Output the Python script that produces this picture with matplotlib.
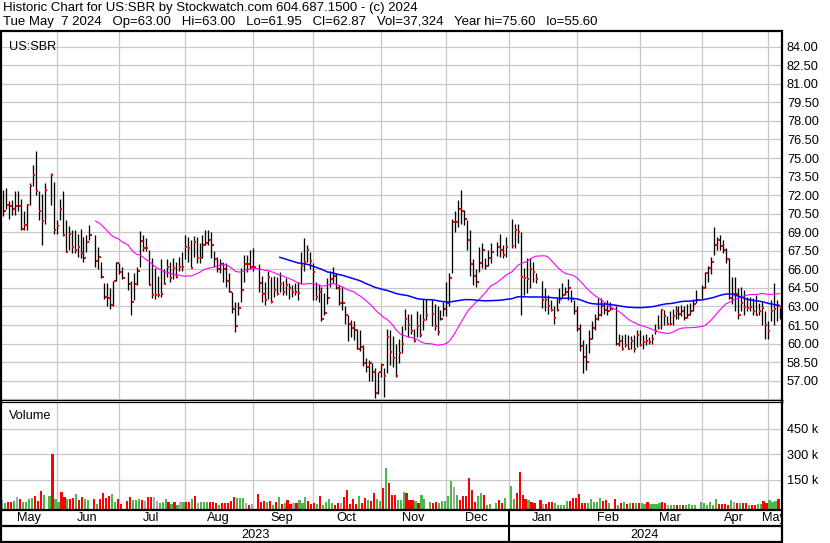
import numpy as np
import pandas as pd
import matplotlib
matplotlib.use("Agg")
import matplotlib.pyplot as plt

plt.rcParams['font.family'] = ['Liberation Sans', 'DejaVu Sans']
plt.rcParams['font.size'] = 9.2

W, H = 830, 543

# one slot per weekday; exchange holidays stay as empty slots
days = pd.bdate_range("2023-05-08", "2024-05-07")
holidays = pd.to_datetime(["2023-05-29", "2023-06-19", "2023-07-04", "2023-09-04",
                           "2023-11-23", "2023-12-25", "2024-01-01", "2024-01-15",
                           "2024-02-19", "2024-03-29"])
trade_days = days[~days.isin(holidays)]

close = [
    # May 2023
    70.75, 71.2, 71.1, 70.9, 71.1, 71.1, 69.3, 69.6, 71.2, 72.7, 73.6, 72.3, 70.75, 69.9, 72.4, 73.6, 69.2,
    # Jun
    69.5, 70.9, 68.8, 67.4, 68.9, 67.8, 67.6, 67.8, 67.3, 66.9, 68.2, 68.8, 66.7, 67.0, 65.4, 63.8, 63.7, 63.1, 65.1, 66.5, 65.8,
    # Jul
    65.3, 64.8, 63.4, 64.8, 65.9, 68.3, 67.7, 67.7, 64.7, 63.9, 63.9, 63.9, 64.0, 64.8, 66.2, 65.3, 66.1, 65.4, 66.2, 66.2,
    # Aug
    67.8, 67.7, 66.1, 68.2, 66.9, 66.9, 68.0, 68.1, 68.4, 68.0, 66.8, 66.0, 66.4, 66.0, 65.1, 64.2, 62.8, 61.4, 62.9, 64.3, 66.4, 66.4, 66.2,
    # Sep
    66.2, 64.9, 64.0, 63.5, 65.4, 63.4, 64.3, 64.0, 64.8, 64.2, 64.7, 64.5, 64.2, 64.2, 64.1, 66.3, 66.6, 67.6, 66.7, 65.8,
    # Oct
    63.8, 64.2, 62.0, 62.5, 63.7, 65.2, 65.5, 64.5, 63.3, 63.3, 62.3, 61.6, 61.25, 61.1, 59.6, 59.7, 58.45, 58.1, 58.45, 57.7, 56.0, 57.7,
    # Nov
    58.3, 57.4, 60.5, 59.3, 58.8, 57.4, 59.2, 60.0, 61.95, 61.5, 61.0, 60.2, 61.4, 60.7, 61.9, 62.3, 62.4, 61.4, 60.9, 62.0, 62.8,
    # Dec
    63.3, 65.3, 69.8, 69.8, 70.9, 70.7, 70.1, 68.4, 66.4, 65.5, 65.0, 66.5, 67.6, 66.3, 66.9, 67.4, 67.8, 67.6, 67.2, 67.8,
    # Jan 2024
    67.9, 69.2, 69.0, 65.4, 65.3, 65.2, 66.0, 65.8, 65.2, 63.5, 63.5, 63.0, 62.7, 62.1, 62.7, 63.6, 63.9, 64.2, 64.5, 63.6, 62.6,
    # Feb
    61.2, 59.8, 58.9, 58.5, 60.4, 61.3, 62.0, 62.3, 63.0, 62.7, 62.6, 62.8, 60.0, 60.2, 59.6, 59.9, 59.6, 60.2, 59.6, 60.7,
    # Mar
    59.9, 60.1, 60.2, 60.1, 60.4, 61.0, 61.3, 62.7, 62.2, 61.55, 61.55, 62.2, 62.6, 62.4, 62.6, 62.1, 62.3, 62.6, 63.2, 63.5,
    # Apr
    64.5, 65.7, 66.1, 66.6, 68.0, 68.4, 67.9, 67.6, 66.8, 63.65, 64.0, 64.0, 62.3, 63.25, 62.95, 62.9, 62.95, 62.6, 62.3, 62.6, 62.9, 61.5,
    # May 2024
    61.0, 62.6, 62.8, 63.1, 62.87,
]

high = [
    72.4, 72.55, 71.5, 71.6, 72.3, 72.3, 71.7, 70.7, 71.3, 73.0, 74.4, 75.6, 72.3, 72.1, 73.0, 73.8, 73.1,
    70.0, 71.7, 72.3, 70.0, 69.5, 69.2, 69.2, 68.9, 69.3, 68.6, 68.8, 69.6, 68.8, 67.8, 66.6, 64.9, 64.9, 64.5, 65.1, 66.6, 66.5,
    66.2, 65.8, 65.1, 65.7, 66.2, 69.1, 68.8, 68.5, 67.6, 66.9, 66.1, 65.5, 66.8, 66.0, 66.8, 66.6, 66.9, 66.6, 67.0, 67.4,
    68.8, 68.6, 68.4, 68.7, 68.6, 68.1, 68.8, 69.2, 69.2, 69.0, 67.5, 67.0, 66.8, 66.6, 66.5, 65.7, 64.2, 63.4, 63.4, 66.1, 67.2, 67.2, 67.6,
    67.7, 66.4, 65.5, 65.0, 65.9, 65.4, 65.5, 65.4, 65.8, 65.1, 65.3, 64.9, 64.7, 64.9, 65.0, 67.4, 68.5, 68.0, 67.4, 66.5,
    65.0, 64.8, 64.6, 64.1, 65.3, 65.9, 66.2, 65.7, 64.7, 64.6, 63.0, 62.3, 61.9, 61.8, 61.2, 61.1, 59.9, 58.8, 58.7, 58.4, 58.0, 57.7,
    58.4, 58.0, 61.2, 61.1, 60.6, 60.0, 60.4, 61.4, 62.8, 62.4, 62.4, 61.2, 62.6, 62.4, 63.6, 63.6, 63.5, 63.2, 63.0, 62.7, 63.4,
    65.0, 65.7, 70.1, 70.7, 71.6, 72.4, 70.8, 70.0, 69.2, 66.8, 66.0, 67.8, 68.1, 66.9, 67.6, 68.1, 68.2, 68.9, 68.0, 68.6,
    70.1, 69.7, 69.7, 69.0, 66.1, 66.9, 66.9, 66.6, 65.7, 65.1, 64.5, 63.9, 63.5, 63.0, 63.7, 64.5, 64.9, 64.6, 65.2, 64.3, 63.5,
    63.0, 61.6, 60.3, 60.0, 61.1, 61.8, 62.4, 63.7, 63.7, 63.4, 63.5, 63.4, 63.0, 60.8, 60.7, 60.8, 60.7, 60.6, 60.7, 61.1,
    61.1, 60.7, 60.8, 60.55, 60.8, 61.6, 62.3, 62.8, 62.7, 62.2, 62.6, 62.8, 63.0, 63.0, 63.1, 63.0, 63.2, 63.25, 63.6, 64.3,
    64.7, 65.8, 66.3, 67.0, 69.4, 68.6, 68.8, 68.4, 67.7, 66.9, 65.4, 65.4, 64.5, 64.6, 64.3, 63.8, 63.8, 63.65, 63.9, 63.25, 63.4, 62.6,
    61.8, 63.5, 64.9, 63.5, 63.0,
]

low = [
    70.3, 70.9, 70.1, 70.4, 70.4, 70.7, 69.2, 69.2, 69.2, 71.2, 72.7, 72.0, 70.0, 68.0, 69.7, 71.2, 68.9,
    68.9, 70.0, 68.7, 67.4, 67.6, 67.3, 67.3, 67.0, 66.9, 66.6, 67.4, 68.4, 66.2, 66.0, 65.3, 63.6, 63.0, 62.8, 63.0, 65.1, 65.6,
    65.2, 64.3, 62.3, 63.5, 64.7, 66.2, 67.5, 67.5, 64.7, 63.7, 63.6, 63.8, 63.8, 64.8, 65.4, 65.0, 65.2, 65.3, 65.9, 65.9,
    66.8, 66.6, 66.1, 67.0, 66.5, 66.5, 66.9, 68.0, 68.0, 66.9, 66.2, 65.8, 65.7, 65.0, 64.6, 64.2, 62.5, 60.9, 62.3, 63.4, 65.0, 65.8, 66.0,
    65.9, 64.2, 63.4, 63.1, 63.6, 63.3, 63.8, 63.9, 64.2, 63.9, 63.9, 63.6, 63.8, 63.9, 63.5, 64.8, 65.9, 66.6, 66.0, 63.5,
    63.5, 63.4, 61.8, 62.3, 63.2, 64.6, 64.9, 64.4, 63.1, 62.7, 61.6, 60.2, 60.5, 60.3, 59.6, 59.4, 58.2, 57.7, 57.0, 57.0, 55.6, 55.9,
    57.3, 55.7, 57.6, 58.3, 58.1, 57.3, 58.4, 59.2, 61.1, 60.5, 60.8, 60.1, 60.5, 60.5, 61.1, 61.9, 61.4, 61.1, 60.7, 61.9, 62.2,
    62.2, 63.0, 65.7, 69.0, 69.4, 69.7, 69.6, 67.6, 65.5, 64.7, 64.6, 65.8, 66.1, 66.0, 66.3, 66.5, 67.1, 67.0, 66.9, 67.0,
    67.7, 67.7, 68.1, 62.3, 63.9, 64.1, 64.5, 65.0, 64.9, 62.9, 62.6, 62.4, 62.6, 61.6, 62.6, 63.3, 63.8, 63.9, 63.5, 63.4, 62.4,
    61.0, 59.4, 57.6, 57.9, 59.2, 60.4, 61.1, 61.9, 62.2, 62.4, 62.3, 62.7, 59.9, 59.8, 59.5, 59.7, 59.6, 59.6, 59.3, 59.7,
    59.8, 59.6, 59.9, 60.0, 60.0, 60.8, 61.2, 61.2, 61.5, 61.5, 61.5, 61.5, 62.0, 62.0, 62.2, 61.9, 62.1, 62.3, 62.6, 63.3,
    63.6, 64.5, 65.0, 65.6, 67.2, 67.6, 67.6, 67.3, 66.5, 63.6, 63.2, 62.6, 62.0, 62.6, 62.3, 62.6, 62.6, 62.3, 62.3, 62.3, 61.5, 60.4,
    60.4, 61.8, 61.5, 61.8, 61.95,
]

# volume in thousands of shares
volume = [
    32, 12, 22, 22, 26, 48, 36, 22, 22, 38, 46, 56, 26, 85, 62, 56, 300,
    38, 20, 79, 50, 40, 40, 46, 68, 30, 50, 40, 32, 36, 9, 38, 73, 46, 56, 68, 22, 40,
    9, 26, 50, 32, 32, 38, 32, 26, 50, 52, 48, 26, 16, 22, 40, 18, 11, 20, 4, 18,
    22, 20, 22, 36, 56, 12, 20, 18, 18, 20, 18, 12, 2, 12, 12, 12, 26, 50, 44, 44, 44, 12, 2,
    9, 68, 22, 26, 20, 24, 2, 20, 50, 9, 12, 32, 11, 16, 12, 32, 16, 48, 26, 9,
    12, 6, 56, 2, 22, 40, 12, 2, 12, 12, 48, 91, 9, 40, 9, 56, 12, 44, 32, 26, 71, 40,
    26, 105, 220, 132, 62, 62, 32, 32, 79, 75, 32, 32, 28, 12, 62, 40, 18, 16, 20, 16, 26,
    26, 56, 146, 111, 62, 32, 56, 56, 162, 91, 22, 56, 71, 62, 2, 9, 12, 32, 16, 46,
    115, 40, 75, 197, 60, 40, 32, 22, 16, 32, 9, 9, 20, 20, 12, 1, 1, 2, 26, 26, 42,
    42, 68, 12, 12, 12, 40, 22, 22, 44, 26, 32, 12, 38, 2, 16, 22, 9, 12, 16, 16,
    16, 12, 9, 20, 9, 9, 6, 12, 22, 12, 2, 2, 1, 2, 1, 1, 2, 9, 2, 1,
    20, 12, 2, 20, 2, 40, 9, 9, 9, 2, 32, 20, 16, 16, 16, 16, 2, 1, 1, 9, 9, 28,
    16, 32, 20, 24, 37.3,
]

price_levels = np.arange(55.5, 84.01, 1.5)
vol_levels = [150, 300, 450]

header1 = "Historic Chart for US:SBR by Stockwatch.com 604.687.1500 - (c) 2024"
header2 = ("Tue May  7 2024   Op=63.00   Hi=63.00   Lo=61.95   Cl=62.87   "
           "Vol=37,324   Year hi=75.60   lo=55.60")

assert len(close) == len(high) == len(low) == len(volume) == len(trade_days)
x = np.asarray(days.get_indexer(trade_days), dtype=float)
close = np.array(close); high = np.array(high); low = np.array(low)
volume = np.array(volume, dtype=float)

# month boundaries in slot units (weekend starts fall back onto the Friday)
grid_x = []
for m in pd.date_range("2023-06-01", "2024-05-01", freq="MS"):
    i = days.searchsorted(m)
    if m.weekday() >= 5:
        i -= 1
    grid_x.append(i)
month_names = [d.strftime("%b") for d in pd.date_range("2023-05-01", "2024-05-01", freq="MS")]

XL = (-0.39, 261.46)

fig = plt.figure(figsize=(W / 100, H / 100), dpi=100)


def px_axes(l, t, r, b, **kw):
    return fig.add_axes([l / W, 1 - b / H, (r - l) / W, (b - t) / H], **kw)


GRID = "#c8c8c8"

# ---- price panel
ax = px_axes(2, 32, 781, 400)
ax.set_xlim(*XL)
ax.set_ylim(55.44, 85.19)
ax.vlines(x, low, high, color="black", lw=0.95, zorder=3)
ax.hlines(close, x + 0.17, x + 0.85, color="#ff0000", lw=1.5, zorder=4)
cs = pd.Series(close)
ax.plot(x, cs.rolling(30).mean(), color="#ff00ff", lw=0.8, zorder=5)
ax.plot(x, cs.rolling(90).mean(), color="#0000ff", lw=1.1, zorder=5)
ax.set_xticks(grid_x)
ax.set_xticklabels([])
ax.set_yticks(price_levels)
ax.set_yticklabels(["" if v < 56 else f"{v:.2f}" for v in price_levels])
ax.yaxis.tick_right()
ax.tick_params(length=0, pad=4.3)
ax.grid(True, color=GRID, lw=0.9, zorder=0)
for s in ax.spines.values():
    s.set_visible(False)
ax.text(0.009, 0.975, "US:SBR", transform=ax.transAxes, va="top", ha="left")

# ---- volume panel
VB = -23.5
axv = px_axes(2, 403, 781, 509.5)
axv.set_xlim(*XL)
axv.set_ylim(VB, 602.7)
up = np.r_[0, np.sign(np.diff(close))]
colors = np.where(up > 0, "#4cb84c", np.where(up < 0, "#ff0000", "#a8a8a8"))
axv.bar(x - 0.4, volume - VB, bottom=VB, width=0.72, color=colors, zorder=3)
axv.set_xticks(grid_x)
axv.set_xticklabels([])
axv.set_yticks(vol_levels)
axv.set_yticklabels([f"{v} k" for v in vol_levels])
axv.yaxis.tick_right()
axv.tick_params(length=0, pad=4.3)
axv.grid(True, color=GRID, lw=0.9, zorder=0)
for s in axv.spines.values():
    s.set_visible(False)
axv.text(0.009, 0.93, "Volume", transform=axv.transAxes, va="top", ha="left")

# ---- month / year strip
axm = px_axes(2, 509.5, 781, 541.5)
axm.set_xlim(*XL)
axm.set_ylim(0, 1)
axm.axis("off")
bounds = [XL[0]] + grid_x + [XL[1]]
for i, name in enumerate(month_names):
    axm.text((bounds[i] + bounds[i + 1]) / 2 - 0.3, 0.73, name, ha="center", va="center",
             clip_on=True)
jan = grid_x[7]
axm.text((XL[0] + jan) / 2, 0.2, "2023", ha="center", va="center")
axm.text((jan + XL[1]) / 2, 0.2, "2024", ha="center", va="center")
axm.axvline(jan, color="black", lw=1.5)

# ---- frame lines and header, in pixel coordinates
fr = fig.add_axes([0, 0, 1, 1], zorder=10)
fr.set_xlim(0, W)
fr.set_ylim(H, 0)
fr.axis("off")
fr.patch.set_alpha(0)
k = dict(color="black", solid_capstyle="butt")
fr.plot([0, 782.5], [31, 31], lw=1.6, **k)
fr.plot([1, 1], [30.2, 543], lw=1.6, **k)
fr.plot([781.7, 781.7], [30.2, 543], lw=1.6, **k)
fr.plot([0, 782.5], [400.3, 400.3], lw=0.9, **k)
fr.plot([0, 782.5], [402.3, 402.3], lw=0.9, **k)
fr.plot([0, 782.5], [509.8, 509.8], lw=1.6, **k)
fr.plot([0, 782.5], [525.8, 525.8], lw=1.6, **k)
fr.plot([0, 782.5], [541.7, 541.7], lw=1.6, **k)
fr.text(3, 8.3, header1, va="center", ha="left", fontsize=9.5)
fr.text(3, 22.3, header2, va="center", ha="left", fontsize=9.5)

fig.savefig("out.png", dpi=100)
